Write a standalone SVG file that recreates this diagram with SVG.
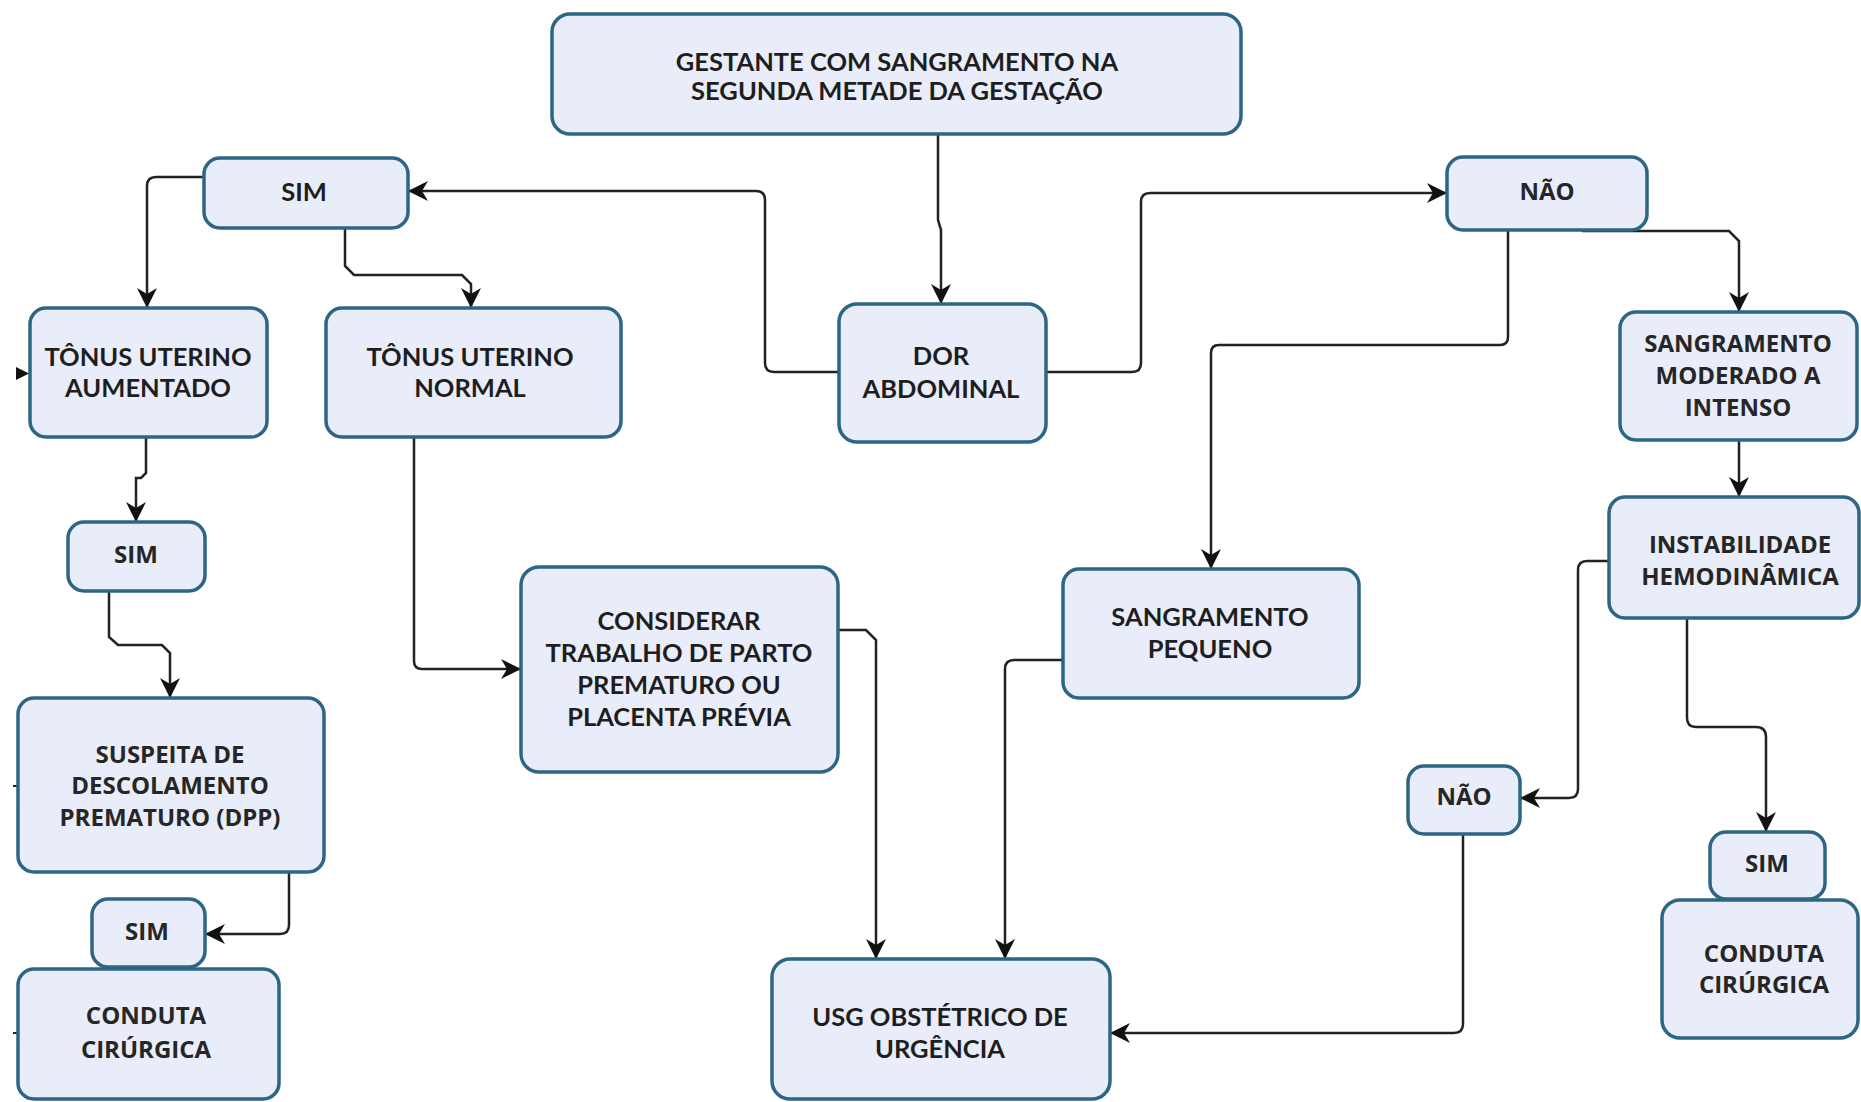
<svg xmlns="http://www.w3.org/2000/svg" width="1861" height="1102" viewBox="0 0 1861 1102">
<style>
.box{fill:#e9edf9;stroke:#2d6585;stroke-width:3.5}
.t{font-family:Lato,"Liberation Sans",sans-serif;font-weight:700;font-size:25.5px;fill:#1e1e1e;text-anchor:middle}
.w{font-family:"Open Sans","Liberation Sans",sans-serif;font-weight:700;font-size:24px;fill:#262626;text-anchor:middle}
.c{fill:none;stroke:#222;stroke-width:2.5;marker-end:url(#ah)}
</style>
<defs>
<marker id="ah" viewBox="0 0 20 20" refX="19" refY="10" markerWidth="20" markerHeight="20" markerUnits="userSpaceOnUse" orient="auto">
<path d="M0,0 L20,10 L0,20 L6,10 z" fill="#111"/>
</marker>
</defs>
<rect width="1861" height="1102" fill="#ffffff"/>
<g id="connectors">
<path class="c" d="M938,134 V220 L941,230 V303"/>
<path class="c" d="M839,372 H774 Q765,372 765,363 V200 Q765,191 756,191 H409"/>
<path class="c" d="M1046,372 H1132 Q1141,372 1141,363 V202 Q1141,193 1150,193 H1446"/>
<path class="c" d="M204,177 H156 Q147,177 147,186 V307"/>
<path class="c" d="M345,228 V266 L354,275 H462 L471,284 V307"/>
<path class="c" d="M146,437 V473 L141,478 H136 V521"/>
<path class="c" d="M109,591 V637 L118,645 H162 L170,653 V697"/>
<path class="c" d="M289,872 V925 Q289,934 280,934 H206"/>
<path class="c" d="M414,437 V661 Q414,669 422,669 H520"/>
<path class="c" d="M839,630 H866 L876,640 V958"/>
<path class="c" d="M1508,230 V337 Q1508,345 1500,345 H1219 Q1211,345 1211,353 V568"/>
<path class="c" d="M1582,231 H1729 L1739,241 V311"/>
<path class="c" d="M1739,440 V496"/>
<path class="c" d="M1609,561 H1587 Q1578,561 1578,570 V789 Q1578,798 1569,798 H1521"/>
<path class="c" d="M1687,618 V718 Q1687,727 1696,727 H1756 Q1766,727 1766,737 V831"/>
<path class="c" d="M1463,835 V1024 Q1463,1033 1454,1033 H1111"/>
<path class="c" d="M1063,660 H1014 Q1005,660 1005,669 V958"/>
<path d="M16,367 L29,373.5 L16,380 z" fill="#111"/>
<path d="M13,786 H17 M13,1033 H17" stroke="#222" stroke-width="2"/>
</g>
<g id="n-gestante"><rect class="box" x="552" y="14" width="689" height="120" rx="18"/>
<text class="t" x="897" y="71">GESTANTE COM SANGRAMENTO NA</text><text class="t" x="897" y="100">SEGUNDA METADE DA GESTAÇÃO</text></g>
<g id="n-sim1"><rect class="box" x="204" y="158" width="204" height="70" rx="16"/>
<text class="t" x="304" y="201">SIM</text></g>
<g id="n-tonus-aum"><rect class="box" x="30" y="308" width="237" height="129" rx="16"/>
<text class="t" x="148" y="366">TÔNUS UTERINO</text><text class="t" x="148" y="397">AUMENTADO</text></g>
<g id="n-tonus-norm"><rect class="box" x="326" y="308" width="295" height="129" rx="16"/>
<text class="t" x="470" y="366">TÔNUS UTERINO</text><text class="t" x="470" y="397">NORMAL</text></g>
<g id="n-dor"><rect class="box" x="839" y="304" width="207" height="138" rx="18"/>
<text class="t" x="941" y="365">DOR</text><text class="t" x="941" y="398">ABDOMINAL</text></g>
<g id="n-nao1"><rect class="box" x="1447" y="157" width="200" height="73" rx="16"/>
<text class="w" x="1547" y="200">NÃO</text></g>
<g id="n-sang-mod"><rect class="box" x="1620" y="312" width="237" height="128" rx="16"/>
<text class="w" x="1738" y="352">SANGRAMENTO</text><text class="w" x="1738" y="384">MODERADO A</text><text class="w" x="1738" y="416">INTENSO</text></g>
<g id="n-instab"><rect class="box" x="1609" y="497" width="250" height="121" rx="16"/>
<text class="w" x="1740" y="553">INSTABILIDADE</text><text class="w" x="1740" y="585">HEMODINÂMICA</text></g>
<g id="n-sim2"><rect class="box" x="68" y="522" width="137" height="69" rx="16"/>
<text class="w" x="136" y="563">SIM</text></g>
<g id="n-suspeita"><rect class="box" x="18" y="698" width="306" height="174" rx="16"/>
<text class="w" x="170" y="763">SUSPEITA DE</text><text class="w" x="170" y="794">DESCOLAMENTO</text><text class="w" x="170" y="826">PREMATURO (DPP)</text></g>
<g id="n-conduta1"><rect class="box" x="18" y="969" width="261" height="130" rx="16"/>
<text class="w" x="146" y="1024">CONDUTA</text><text class="w" x="146" y="1058">CIRÚRGICA</text></g>
<g id="n-sim3"><rect class="box" x="92" y="899" width="113" height="68" rx="16"/>
<text class="w" x="147" y="940">SIM</text></g>
<g id="n-considerar"><rect class="box" x="521" y="567" width="317" height="205" rx="18"/>
<text class="t" x="679" y="630">CONSIDERAR</text><text class="t" x="679" y="662">TRABALHO DE PARTO</text><text class="t" x="679" y="694">PREMATURO OU</text><text class="t" x="679" y="726">PLACENTA PRÉVIA</text></g>
<g id="n-sang-peq"><rect class="box" x="1063" y="569" width="296" height="129" rx="16"/>
<text class="t" x="1210" y="626">SANGRAMENTO</text><text class="t" x="1210" y="658">PEQUENO</text></g>
<g id="n-usg"><rect class="box" x="772" y="959" width="338" height="140" rx="18"/>
<text class="t" x="940" y="1026">USG OBSTÉTRICO DE</text><text class="t" x="940" y="1058">URGÊNCIA</text></g>
<g id="n-nao2"><rect class="box" x="1408" y="766" width="112" height="68" rx="16"/>
<text class="w" x="1464" y="805">NÃO</text></g>
<g id="n-conduta2"><rect class="box" x="1662" y="900" width="196" height="138" rx="18"/>
<text class="w" x="1764" y="962">CONDUTA</text><text class="w" x="1764" y="993">CIRÚRGICA</text></g>
<g id="n-sim4"><rect class="box" x="1710" y="832" width="115" height="67" rx="16"/>
<text class="w" x="1767" y="872">SIM</text></g>
</svg>
